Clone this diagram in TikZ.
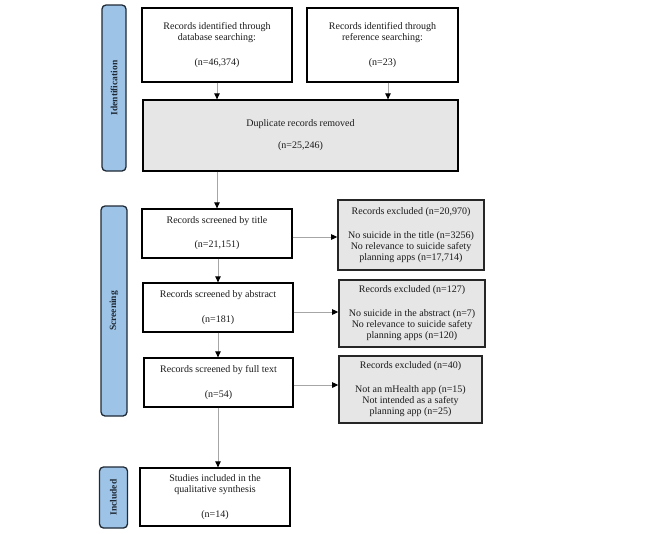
\documentclass[tikz,border=0pt]{standalone}
\usepackage{fontspec}
\setmainfont{Liberation Serif}
\usetikzlibrary{arrows.meta,calc}
\definecolor{phasefill}{HTML}{9DC3E6}
\definecolor{phasedraw}{HTML}{1F2A36}
\definecolor{boxgray}{HTML}{E6E6E6}
\definecolor{linegray}{HTML}{A6A6A6}
\definecolor{txt}{HTML}{1A1A1A}
\begin{document}
\begin{tikzpicture}[x=1pt,y=-1pt,
  every node/.style={font=\fontsize{10}{11}\selectfont, text=txt, inner sep=0pt, align=center},
  wbox/.style={draw=black, line width=1.3pt, fill=white},
  gbox/.style={draw=black!85, line width=1.6pt, fill=boxgray},
  phase/.style={draw=phasedraw, line width=1.3pt, fill=phasefill, rounded corners=4pt},
  phaselabel/.style={font=\fontsize{9.5}{11}\selectfont\bfseries, text=phasedraw, rotate=90},
  arr/.style={draw=linegray, line width=0.9pt, -{Triangle[length=6pt,width=5.5pt,color=black]}}
]
\useasboundingbox (0,0) rectangle (666,533);
% phase boxes
\node[phase, minimum width=24pt, minimum height=166pt] (pid) at (114,88) {};
\node[phaselabel] at (pid.center) {Identification};
\node[phase, minimum width=26pt, minimum height=210pt] (psc) at (114,311) {};
\node[phaselabel] at (psc.center) {Screening};
\node[phase, minimum width=28pt, minimum height=61pt] (pin) at (113.5,497.5) {};
\node[phaselabel] at (pin.center) {Included};
% identification
\node[wbox, minimum width=150pt, minimum height=74pt] (b1) at (217,45)
  {Records identified through\\database searching:\\[14pt](n=46,374)};
\node[wbox, minimum width=151pt, minimum height=74pt] (b2) at (382.5,45)
  {Records identified through\\reference searching:\\[14pt](n=23)};
\node[gbox, draw=black, line width=1.3pt, minimum width=315pt, minimum height=71pt] (dup) at (300.5,135.5)
  {Duplicate records removed\\[11pt](n=25,246)};
% screening
\node[wbox, minimum width=150pt, minimum height=49pt] (title) at (217,233.5)
  {Records screened by title\\[13pt](n=21,151)};
\node[gbox, minimum width=146pt, minimum height=70pt] (ex1) at (411,235)
  {Records excluded (n=20,970)\\[13pt]No suicide in the title (n=3256)\\No relevance to suicide safety\\planning apps (n=17,714)};
\node[wbox, minimum width=150pt, minimum height=49pt] (abs) at (218,307.5)
  {Records screened by abstract\\[14pt](n=181)};
\node[gbox, minimum width=146pt, minimum height=67pt] (ex2) at (412,313.5)
  {Records excluded (n=127)\\[13pt]No suicide in the abstract (n=7)\\No relevance to suicide safety\\planning apps (n=120)};
\node[wbox, minimum width=149pt, minimum height=49pt] (full) at (218.5,382.5)
  {Records screened by full text\\[14pt](n=54)};
\node[gbox, minimum width=143pt, minimum height=67pt] (ex3) at (410.5,389.5)
  {Records excluded (n=40)\\[13pt]Not an mHealth app (n=15)\\Not intended as a safety\\planning app (n=25)};
% included
\node[wbox, minimum width=150pt, minimum height=58pt] (inc) at (215,497)
  {Studies included in the\\qualitative synthesis\\[14pt](n=14)};
% connectors
\draw[arr] (b1.south) -- (b1.south |- dup.north);
\draw[arr] ([xshift=5.5pt]b2.south) -- ([xshift=5.5pt]b2.south |- dup.north);
\draw[arr] (title.north |- dup.south) -- (title.north);
\draw[arr] ([xshift=1pt]title.south) -- ([xshift=1pt]title.south |- abs.north);
\draw[arr] (abs.south) -- (abs.south |- full.north);
\draw[arr] ([xshift=-0.5pt]full.south) -- ([xshift=-0.5pt]full.south |- inc.north);
\draw[arr] ([yshift=-3.5pt]title.east) -- ([yshift=-3.5pt]title.east -| ex1.west);
\draw[arr] ([yshift=-4.5pt]abs.east) -- ([yshift=-4.5pt]abs.east -| ex2.west);
\draw[arr] ([yshift=-2.5pt]full.east) -- ([yshift=-2.5pt]full.east -| ex3.west);
\end{tikzpicture}
\end{document}
